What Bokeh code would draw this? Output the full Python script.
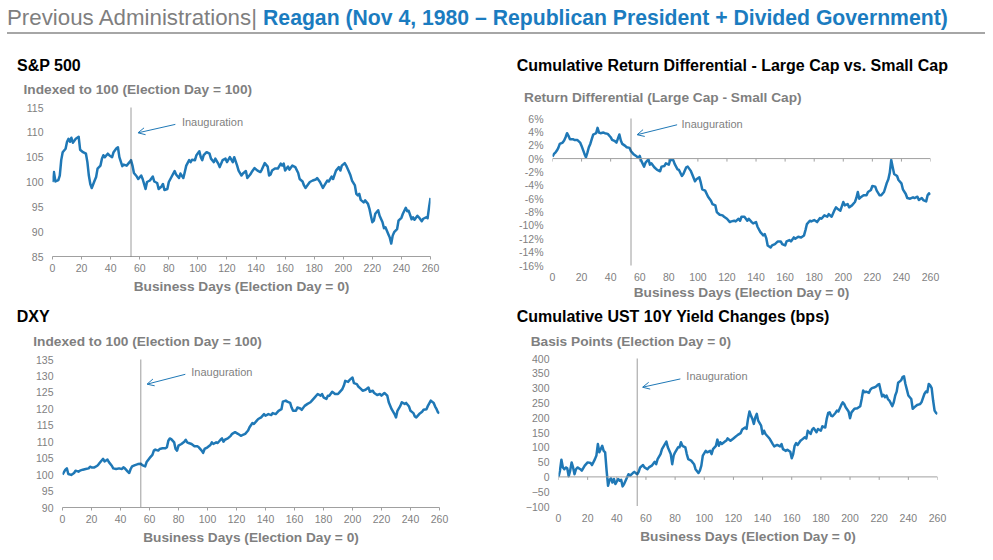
import math
from bokeh.plotting import figure
from bokeh.models import (Range1d, FixedTicker, Span, Arrow, OpenHead,
                          Label, Div, PrintfTickFormatter)
from bokeh.layouts import column, row
from bokeh.embed import file_html
from bokeh.resources import INLINE

# ---------------- data ----------------
X_TICKS = [0, 20, 40, 60, 80, 100, 120, 140, 160, 180, 200, 220, 240, 260]
INAUG_DAY = 54

SPX_DAYS = [0, 1, 2, 4, 5, 6, 7, 9, 10, 11, 12, 13, 14, 16, 18, 19, 21, 23, 24, 25, 26, 27, 29, 30, 31,
            33, 34, 35, 36, 38, 39, 41, 42, 44, 45, 46, 48, 49, 51, 53, 54, 55, 56, 58, 59, 61, 62, 64,
            65, 67, 69, 70, 72, 73, 75, 76, 77, 79, 80, 82, 84, 85, 87, 88, 90, 91, 92, 94, 95, 96, 98,
            99, 101, 102, 103, 104, 106, 108, 109, 111, 112, 114, 115, 117, 119, 120, 122, 124, 125,
            127, 128, 130, 131, 133, 134, 136, 137, 139, 141, 143, 144, 146, 148, 149, 150, 151, 153,
            155, 157, 158, 159, 160, 162, 163, 165, 167, 169, 170, 172, 173, 174, 176, 177, 179, 181,
            182, 184, 186, 187, 189, 190, 192, 193, 195, 197, 198, 199, 201, 202, 204, 205, 206, 208,
            209, 210, 211, 212, 214, 215, 217, 218, 219, 220, 221, 222, 224, 225, 227, 228, 229, 230,
            231, 232, 233, 234, 235, 237, 238, 240, 241, 243, 244, 245, 247, 248, 249, 251, 252, 254,
            255, 257, 258, 259, 260]
SPX_VALUES = [100.0, 102.0, 100.1, 100.4, 101.3, 104.4, 106.0, 106.7, 108.1, 108.7, 108.1, 108.9, 107.9,
              108.7, 109.1, 106.5, 106.0, 105.7, 104.0, 101.3, 99.6, 98.8, 100.3, 101.0, 102.7, 103.3,
              104.7, 105.4, 105.0, 105.7, 105.4, 105.0, 106.0, 106.8, 107.0, 105.0, 103.2, 103.5, 103.3,
              104.0, 104.4, 103.3, 101.8, 101.1, 100.6, 101.3, 100.6, 98.6, 100.0, 100.3, 101.1, 100.1,
              99.8, 98.6, 99.1, 99.6, 98.4, 98.6, 100.0, 101.1, 102.2, 101.5, 100.8, 101.7, 100.8, 102.0,
              103.3, 104.4, 104.0, 104.5, 104.4, 105.4, 106.2, 105.0, 104.4, 105.4, 106.0, 105.7, 104.7,
              104.0, 104.7, 103.7, 103.0, 104.4, 104.7, 104.0, 105.0, 104.0, 105.0, 103.3, 102.3, 101.3,
              101.7, 102.2, 100.8, 101.5, 102.0, 102.8, 102.3, 102.0, 102.5, 103.8, 103.1, 101.3, 101.5,
              102.3, 102.7, 102.7, 103.7, 103.3, 103.7, 102.3, 103.1, 102.5, 103.3, 103.0, 101.8, 100.6,
              100.1, 99.3, 98.8, 99.6, 100.0, 100.3, 100.5, 100.8, 100.0, 98.8, 99.3, 100.3, 100.1, 101.1,
              100.6, 102.3, 103.0, 102.3, 103.3, 103.8, 103.3, 102.0, 101.3, 100.3, 99.3, 97.6, 97.3, 97.6,
              96.4, 95.9, 96.3, 95.6, 94.6, 93.2, 91.9, 92.2, 93.6, 94.3, 93.2, 91.9, 90.7, 90.9, 90.2,
              89.5, 88.8, 87.6, 89.2, 89.9, 90.5, 92.2, 92.8, 93.6, 94.8, 94.1, 94.2, 92.5, 92.9, 92.4,
              93.2, 92.9, 92.1, 92.6, 92.9, 92.7, 94.9, 96.8]

RD_DAYS = [0, 1, 2, 3, 4, 5, 7, 8, 9, 10, 11, 12, 14, 15, 17, 19, 20, 21, 22, 23, 24, 25, 26, 27, 28,
           30, 31, 32, 33, 35, 36, 38, 40, 41, 43, 44, 46, 47, 48, 50, 51, 53, 54, 56, 58, 59, 60, 61,
           63, 64, 66, 67, 68, 70, 72, 74, 75, 77, 78, 80, 81, 83, 84, 86, 87, 89, 90, 92, 93, 95, 96,
           98, 99, 101, 102, 103, 105, 107, 109, 110, 112, 113, 115, 117, 118, 120, 122, 123, 125, 126,
           128, 129, 130, 132, 134, 135, 137, 138, 140, 141, 143, 145, 146, 147, 148, 150, 151, 153,
           155, 157, 158, 160, 161, 163, 164, 166, 167, 169, 171, 173, 174, 175, 177, 178, 180, 182,
           184, 185, 187, 189, 190, 192, 194, 195, 196, 198, 200, 201, 203, 204, 206, 208, 209, 210,
           211, 212, 214, 216, 217, 219, 220, 222, 223, 225, 226, 228, 229, 230, 231, 232, 233, 234,
           235, 237, 238, 240, 241, 243, 244, 246, 248, 249, 251, 252, 254, 255, 257, 258, 259, 260]
RD_VALUES = [0.3, 0.7, 0.9, 1.2, 1.6, 2.2, 2.4, 2.7, 3.2, 3.8, 3.4, 2.9, 2.9, 2.8, 2.8, 2.4, 1.9, 1.3,
             0.7, 0.2, 0.9, 1.7, 2.2, 2.9, 3.6, 3.8, 4.6, 3.9, 3.8, 3.9, 3.8, 3.7, 3.2, 2.8, 2.6, 2.4,
             3.6, 2.7, 2.2, 1.9, 1.7, 1.6, 1.1, 0.6, 0.3, 0.1, 0.4, -0.3, -1.2, -0.6, -0.1, -0.9, -0.7,
             -1.3, -1.7, -1.9, -1.2, -1.1, -0.7, -0.9, -0.2, -0.2, -0.8, -1.6, -1.7, -2.6, -2.3, -1.3,
             -1.2, -1.8, -2.3, -3.4, -3.1, -2.8, -3.6, -4.6, -4.8, -5.7, -6.3, -6.8, -7.0, -8.0, -8.4,
             -8.5, -8.7, -9.0, -9.5, -9.4, -9.3, -9.4, -9.0, -9.3, -8.7, -8.7, -9.3, -9.0, -9.5, -9.7,
             -9.5, -10.2, -11.0, -11.5, -11.3, -11.9, -13.0, -13.3, -13.0, -12.8, -12.4, -12.4, -12.8,
             -13.0, -12.4, -12.2, -12.4, -11.8, -12.0, -11.7, -11.8, -11.5, -10.7, -9.8, -9.3, -9.4,
             -9.2, -9.5, -8.9, -9.0, -8.5, -8.7, -8.3, -8.7, -7.7, -7.3, -7.5, -7.8, -6.5, -7.0, -6.8,
             -7.3, -7.0, -6.5, -5.9, -5.0, -6.0, -5.8, -5.5, -5.5, -5.0, -4.7, -4.1, -4.2, -4.8, -5.5,
             -5.5, -5.0, -4.3, -3.6, -3.1, -2.1, -0.2, -1.3, -2.3, -2.6, -3.2, -3.7, -4.6, -5.3, -5.9,
             -6.0, -5.8, -5.9, -5.7, -6.2, -5.9, -6.2, -6.4, -5.5, -5.2, -5.4]

DXY_DAYS = [0, 2, 3, 4, 6, 7, 8, 9, 11, 12, 14, 16, 18, 19, 20, 22, 24, 25, 27, 28, 29, 31, 32, 34, 35,
            37, 39, 41, 42, 43, 45, 46, 47, 48, 50, 52, 54, 55, 57, 58, 60, 62, 63, 64, 66, 67, 69, 71,
            72, 73, 74, 75, 77, 78, 79, 80, 82, 84, 85, 86, 87, 89, 91, 93, 94, 96, 97, 98, 100, 102,
            103, 104, 106, 107, 109, 110, 111, 112, 114, 116, 117, 119, 121, 123, 124, 126, 128, 129,
            131, 132, 134, 135, 137, 139, 140, 142, 144, 145, 147, 149, 151, 152, 154, 155, 157, 158,
            159, 161, 162, 164, 165, 167, 169, 171, 172, 174, 176, 178, 179, 180, 182, 183, 184, 186,
            188, 190, 191, 193, 194, 195, 197, 198, 200, 201, 203, 204, 206, 207, 209, 211, 212, 214,
            215, 217, 219, 220, 222, 224, 225, 227, 229, 230, 231, 233, 234, 236, 237, 239, 240, 242,
            243, 244, 246, 248, 249, 251, 252, 254, 256, 257, 258, 259, 260]
DXY_VALUES = [100.0, 101.5, 101.9, 100.2, 99.9, 100.2, 100.5, 101.2, 100.9, 101.2, 101.5, 101.7, 101.9,
              102.4, 102.2, 102.2, 102.7, 103.2, 104.3, 104.8, 104.0, 104.6, 103.8, 102.7, 101.9,
              101.7, 101.9, 101.7, 102.2, 101.9, 100.9, 100.5, 101.7, 102.5, 102.9, 103.2, 103.3,
              102.9, 102.5, 103.8, 105.0, 106.0, 107.3, 107.6, 107.3, 107.8, 108.0, 108.0, 108.3,
              110.3, 111.0, 110.8, 109.8, 107.8, 107.3, 108.8, 109.3, 110.0, 110.6, 109.8, 109.6,
              109.3, 108.6, 108.6, 108.3, 107.3, 106.6, 107.8, 108.3, 109.0, 109.8, 109.3, 109.8,
              109.6, 110.6, 111.0, 110.0, 110.6, 111.0, 111.8, 112.4, 112.9, 112.4, 111.8, 112.0,
              112.4, 113.4, 114.4, 115.7, 115.4, 116.4, 116.9, 117.4, 118.4, 117.9, 118.4, 118.1,
              118.7, 118.4, 119.4, 119.9, 122.2, 122.5, 122.2, 121.8, 120.4, 119.4, 119.4, 120.4,
              120.1, 119.7, 120.9, 121.5, 122.0, 122.5, 123.5, 124.5, 124.0, 124.5, 123.5, 123.0,
              124.0, 124.0, 125.2, 124.5, 124.5, 125.0, 126.0, 127.0, 128.5, 128.2, 128.8, 129.5,
              127.8, 127.5, 126.8, 126.0, 125.5, 125.8, 126.5, 125.2, 125.5, 124.8, 124.2, 124.5,
              124.0, 124.8, 124.0, 122.0, 119.9, 118.4, 117.4, 119.4, 120.9, 122.0, 121.5, 121.8,
              120.7, 119.4, 118.7, 117.7, 117.4, 118.4, 119.1, 119.7, 119.9, 120.9, 122.5, 121.8,
              120.7, 119.9, 118.9, 118.7]

UST_DAYS = [0, 1, 2, 3, 4, 5, 6, 7, 8, 9, 10, 11, 12, 13, 15, 16, 18, 20, 22, 23, 25, 26, 27, 28, 29,
            30, 31, 32, 33, 34, 35, 36, 37, 38, 39, 41, 42, 43, 44, 45, 47, 48, 49, 51, 52, 54, 55, 56,
            58, 59, 61, 62, 64, 66, 67, 68, 70, 71, 73, 74, 75, 77, 78, 79, 80, 82, 83, 84, 85, 87, 88,
            89, 91, 93, 94, 96, 97, 98, 99, 101, 102, 104, 105, 106, 108, 109, 110, 111, 112, 114, 115,
            116, 118, 120, 121, 123, 125, 126, 128, 129, 130, 131, 132, 133, 134, 135, 136, 137, 139,
            140, 141, 142, 144, 145, 147, 148, 150, 152, 153, 154, 156, 157, 159, 160, 161, 162, 163,
            164, 166, 167, 169, 170, 171, 173, 174, 175, 177, 178, 180, 181, 183, 184, 185, 186, 187,
            188, 190, 191, 192, 194, 195, 196, 197, 199, 200, 201, 202, 203, 205, 207, 208, 209, 210,
            211, 213, 214, 215, 217, 218, 219, 220, 221, 222, 223, 224, 225, 226, 227, 229, 230, 231,
            232, 233, 235, 236, 237, 238, 239, 240, 242, 243, 245, 246, 248, 249, 251, 252, 253, 254,
            255, 256, 257, 258, 259, 260]
UST_VALUES = [0, 21, 58, 32, 26, 32, 29, 2, 21, 49, 32, 9, 26, 32, 26, 21, 38, 49, 47, 40, 60, 72, 111,
              83, 94, 105, 88, 83, 21, -30, -10, -5, -19, -7, -24, -7, -13, -10, -32, -24, -2, 9, 4,
              13, 17, 9, 17, 32, 40, 32, 26, 32, 38, 51, 43, 60, 77, 94, 111, 119, 100, 77, 43, 72, 83,
              100, 100, 117, 105, 100, 77, 60, 55, 43, 26, 13, 21, 38, 72, 88, 83, 88, 77, 94, 105, 126,
              105, 117, 111, 119, 122, 130, 122, 130, 134, 142, 148, 160, 167, 162, 196, 221, 207, 196,
              179, 201, 213, 190, 173, 145, 156, 145, 134, 128, 111, 103, 108, 103, 111, 94, 88, 92,
              85, 63, 77, 105, 114, 108, 122, 126, 134, 130, 156, 145, 160, 165, 151, 162, 156, 171,
              167, 196, 216, 218, 207, 205, 216, 224, 221, 243, 252, 246, 235, 221, 198, 218, 224,
              230, 232, 239, 263, 292, 286, 288, 284, 295, 300, 303, 306, 311, 314, 292, 272, 277,
              269, 275, 263, 258, 239, 252, 275, 288, 318, 326, 337, 340, 314, 295, 275, 263, 230,
              239, 243, 246, 252, 280, 288, 286, 314, 309, 300, 258, 224, 216, 213]

SPX_Y = (85, 115)
SPX_TICKS = [85, 90, 95, 100, 105, 110, 115]
RD_Y = (-16, 6)
RD_TICKS = [-16, -14, -12, -10, -8, -6, -4, -2, 0, 2, 4, 6]
DXY_Y = (90, 135)
DXY_TICKS = [90, 95, 100, 105, 110, 115, 120, 125, 130, 135]
UST_Y = (-100, 400)
UST_TICKS = [-100, -50, 0, 50, 100, 150, 200, 250, 300, 350, 400]

# ---------------- style ----------------
FONT = "Liberation Sans"
BLUE = "#1f78b6"
HEAD_BLUE = "#1b7cc0"
GRAY = "#7f7f7f"
AXIS_GRAY = "#a0a0a0"
X_LABEL = "Business Days (Election Day = 0)"


def text_div(w, h, items, extra=""):
    html = '<div style="position:relative;width:%dpx;height:%dpx;">' % (w, h)
    for txt, left, cy, size, weight, color in items:
        top = cy - 0.59 * size
        html += ('<div style="position:absolute;left:%.1fpx;top:%.1fpx;font-family:\'%s\',Arial,sans-serif;'
                 'font-size:%.1fpx;font-weight:%s;color:%s;line-height:%.1fpx;white-space:nowrap;">%s</div>'
                 % (left, top, FONT, size, weight, color, 1.2 * size, txt))
    html += extra + '</div>'
    return Div(text=html, width=w, height=h, margin=0)


def panel(width, height, days, values, y_rng, y_ticks, borders, zero_axis, arrow,
          fmt=None, label_standoff=4):
    left, right, top, bottom = borders
    p = figure(width=width, height=height, x_range=Range1d(0, 260), y_range=Range1d(*y_rng),
               output_backend="svg", toolbar_location=None,
               min_border_left=left, min_border_right=right,
               min_border_top=top, min_border_bottom=bottom)
    p.outline_line_color = None
    p.xgrid.visible = False
    p.ygrid.visible = False
    p.background_fill_color = "white"
    p.border_fill_color = "white"

    xa = p.below[0]
    xa.ticker = FixedTicker(ticks=X_TICKS)
    xa.axis_label = X_LABEL
    xa.axis_label_text_font = FONT
    xa.axis_label_text_font_size = "13.7px"
    xa.axis_label_text_font_style = "bold"
    xa.axis_label_text_color = GRAY
    xa.axis_label_standoff = label_standoff
    xa.major_label_text_font = FONT
    xa.major_label_text_font_size = "10.5px"
    xa.major_label_text_color = GRAY
    xa.minor_tick_line_color = None
    if zero_axis:
        xa.axis_line_color = None
        xa.major_tick_line_color = None
        xa.major_tick_out = 0
        xa.major_tick_in = 0
        xa.major_label_standoff = 7
    else:
        xa.axis_line_color = AXIS_GRAY
        xa.major_tick_line_color = AXIS_GRAY
        xa.major_tick_in = 0
        xa.major_tick_out = 3
        xa.major_label_standoff = 4

    ya = p.left[0]
    ya.ticker = FixedTicker(ticks=y_ticks)
    ya.axis_line_color = None
    ya.major_tick_line_color = None
    ya.minor_tick_line_color = None
    ya.major_tick_out = 0
    ya.major_tick_in = 0
    ya.major_label_standoff = 9
    ya.major_label_text_font = FONT
    ya.major_label_text_font_size = "10.5px"
    ya.major_label_text_color = GRAY
    if fmt:
        ya.formatter = PrintfTickFormatter(format=fmt)

    if zero_axis:
        # horizontal axis line through zero, with small downward ticks at the x ticks
        p.add_layout(Span(location=0, dimension="width", line_color=AXIS_GRAY, line_width=1))
        p.ray(x=X_TICKS, y=[0] * len(X_TICKS), length=3, length_units="screen",
              angle=-math.pi / 2, line_color=AXIS_GRAY, line_width=1)

    p.add_layout(Span(location=INAUG_DAY, dimension="height", line_color="#3a3a3a",
                      line_width=1, line_dash="1 1"))
    p.line(days, values, line_color=BLUE, line_width=2.5, line_join="round")

    (xs, ys), (xe, ye), (xt, yt) = arrow
    p.add_layout(Arrow(x_start=xs, y_start=ys, x_end=xe, y_end=ye, line_color=BLUE, line_width=1,
                       end=OpenHead(size=7, line_color=BLUE, line_width=1)))
    p.add_layout(Label(x=xt, y=yt, text="Inauguration", text_font=FONT, text_font_size="11px",
                       text_color=GRAY, text_baseline="middle", text_align="left"))
    return p


header_line = ('<div style="position:absolute;left:7px;top:32px;width:978px;height:0;'
               'border-top:2px solid #a6a6a6;"></div>')
header = text_div(993, 40, [
    ('<span style="font-size:22.3px;">Previous Administrations|</span> '
     '<span style="color:%s;font-weight:bold;font-size:21.2px;">'
     'Reagan (Nov 4, 1980 &ndash; Republican President + Divided Government)</span>' % HEAD_BLUE,
     7, 18, 22, "normal", GRAY),
], extra=header_line)

t1 = text_div(500, 60, [("S&amp;P 500", 17, 25, 16, "bold", "#000000"),
                        ("Indexed to 100 (Election Day = 100)", 23.5, 50, 13.7, "bold", GRAY)])
t3 = text_div(500, 50, [("DXY", 16.7, 16.7, 16, "bold", "#000000"),
                        ("Indexed to 100 (Election Day = 100)", 33.3, 41.7, 13.7, "bold", GRAY)])
t2 = text_div(493, 70, [("Cumulative Return Differential - Large Cap vs. Small Cap", 16.7, 25, 16, "bold", "#000000"),
                        ("Return Differential (Large Cap - Small Cap)", 24, 57.7, 13.7, "bold", GRAY)])
t4 = text_div(493, 45, [("Cumulative UST 10Y Yield Changes (bps)", 16.7, 11.7, 16, "bold", "#000000"),
                        ("Basis Points (Election Day = 0)", 30.7, 36.7, 13.7, "bold", GRAY)])

p1 = panel(500, 200, SPX_DAYS, SPX_VALUES, SPX_Y, SPX_TICKS, (52, 70, 7, 44), False,
           ((84.5, 111.6), (58.8, 109.9), (89, 112)))
p3 = panel(500, 210, DXY_DAYS, DXY_VALUES, DXY_Y, DXY_TICKS, (62, 61, 9, 53), False,
           ((84.7, 130.5), (58.3, 127.5), (88.8, 131.1)))
p2 = panel(493, 195, RD_DAYS, RD_VALUES, RD_Y, RD_TICKS, (52, 63, 8, 40), True,
           ((85.7, 5.06), (58.2, 3.57), (88.7, 5.16)), fmt="%d%%", label_standoff=1)
p4 = panel(493, 210, UST_DAYS, UST_VALUES, UST_Y, UST_TICKS, (58, 56, 8, 54), True,
           ((83.6, 331), (57.7, 303), (87.7, 340)))

# each title + figure pair in its own column, so that plot frames are not aligned across panels
left_col = column(column(t1, p1), column(t3, p3))
right_col = column(column(t2, p2), column(t4, p4))
layout = column(header, row(left_col, right_col))

open("out.html", "w").write(file_html(layout, INLINE))
